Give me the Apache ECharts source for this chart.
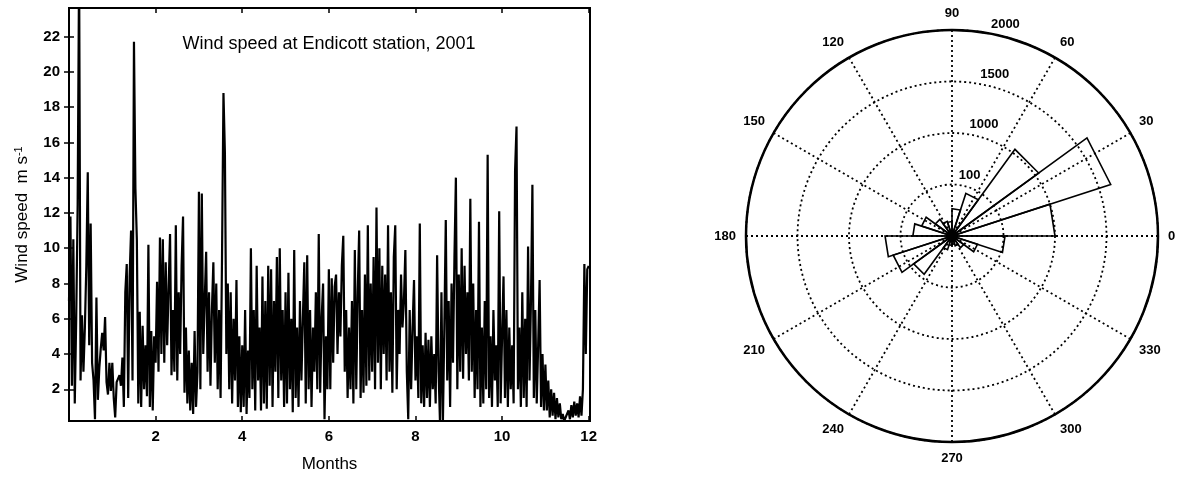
<!DOCTYPE html>
<html>
<head>
<meta charset="utf-8">
<script src="https://cdn.jsdelivr.net/npm/echarts@6/dist/echarts.min.js"></script>
<style>
  html, body { margin: 0; padding: 0; background: #fff; }
  #chart { width: 1183px; height: 478px; }
</style>
</head>
<body>
<div id="chart"></div>
<script>
// wind speed (m/s), one reading every 1/30 month
const speed = [
  7, 11.8, 2.2, 10.5, 1.2, 6, 12.5, 26, 2.5, 6.2, 3, 5.5, 9, 14.3, 4.5, 11.4, 3.5, 2.5, 0.3, 7.2, 1.4, 3.2, 4.3, 5.2, 4.2, 6.1, 2.4, 1.7, 3.5, 1.9,
  3.5, 1.5, 0.4, 2.4, 2.6, 2.8, 2.2, 3.8, 1.0, 7.5, 9.1, 1.5, 8.4, 11.0, 2.5, 21.7, 13.4, 10.5, 1.2, 6.4, 1.0, 5.6, 2.0, 4.5, 1.6, 10.2, 1.0, 5.3, 0.8, 5.0,
  3.5, 8.1, 3.0, 10.6, 4.0, 10.5, 3.5, 9.2, 4.5, 7.8, 10.8, 2.8, 6.5, 3.0, 11.3, 2.5, 7.5, 4.0, 9.0, 11.8, 1.8, 5.5, 1.2, 4.2, 0.8, 3.5, 0.6, 5.3, 1.0, 3.0,
  13.2, 2.0, 13.1, 4.0, 7.0, 9.8, 3.0, 7.5, 2.2, 6.5, 9.2, 3.5, 8.0, 2.0, 6.5, 1.5, 9.5, 18.8, 15.4, 4.0, 8.0, 2.0, 7.5, 1.2, 6.0, 2.5, 8.2, 1.0, 5.0, 0.7,
  4.5, 1.0, 6.5, 0.6, 4.2, 1.5, 10.0, 2.0, 6.5, 0.8, 9.0, 2.5, 5.5, 0.8, 8.4, 1.2, 7.0, 0.9, 9.0, 2.2, 8.8, 1.0, 7.0, 3.0, 9.5, 1.5, 10.0, 2.5, 6.5, 1.0,
  7.5, 1.2, 8.6, 2.0, 6.0, 0.7, 9.9, 1.5, 5.5, 1.0, 7.0, 2.5, 6.0, 9.2, 1.2, 9.6, 2.0, 6.5, 1.0, 5.5, 3.0, 7.5, 2.0, 10.8, 1.8, 6.0, 8.0, 0.3, 5.0, 2.0,
  8.8, 2.0, 8.3, 3.5, 7.8, 8.5, 4.0, 7.5, 5.0, 9.0, 10.7, 3.0, 6.5, 1.5, 5.5, 2.0, 7.0, 1.2, 9.9, 2.0, 7.5, 11.0, 1.5, 6.5, 1.8, 8.5, 2.2, 11.3, 2.5, 8.0,
  3.0, 9.5, 2.0, 12.3, 3.5, 10.0, 2.0, 9.0, 4.0, 8.5, 2.5, 11.3, 3.0, 7.5, 1.8, 9.5, 11.3, 2.0, 6.5, 4.0, 8.5, 5.5, 7.0, 9.9, 3.0, 0.3, 6.5, 2.0, 5.5, 8.2,
  2.5, 5.0, 1.5, 11.4, 1.2, 4.5, 1.0, 5.2, 1.5, 4.8, 1.0, 5.0, 2.0, 4.0, 1.2, 9.6, 3.0, 0.1, 7.5, 0.1, 5.5, 11.6, 2.5, 7.0, 1.0, 8.0, 3.5, 9.5, 14.0, 2.0,
  8.5, 3.0, 10.0, 2.6, 9.0, 4.0, 7.5, 2.5, 12.8, 3.0, 8.0, 1.5, 6.5, 2.0, 11.5, 1.0, 5.5, 1.2, 7.0, 2.0, 15.3, 1.5, 5.0, 1.0, 6.5, 2.5, 4.5, 1.0, 12.1, 1.2,
  5.0, 8.4, 1.5, 6.5, 1.0, 5.5, 2.0, 4.5, 1.2, 14.4, 16.9, 2.0, 5.5, 1.0, 7.5, 1.5, 6.0, 1.0, 10.1, 2.5, 7.0, 13.6, 1.5, 6.5, 1.2, 4.5, 8.2, 1.0, 4.0, 0.8,
  3.4, 0.8, 2.5, 0.4, 2.0, 0.5, 1.8, 0.3, 1.5, 0.4, 1.2, 0.3, 0.6, 0.2, 0.4, 0.3, 0.8, 0.3, 1.1, 0.4, 1.3, 0.5, 1.2, 0.4, 1.6, 0.5, 2.0, 9.1, 4.0, 8.8,
  9.0
];
const sampleStep = 1 / 30;
const monthTicks = [2, 4, 6, 8, 10, 12];
const speedTicks = [2, 4, 6, 8, 10, 12, 14, 16, 18, 20, 22];

// rose histogram: counts in 20 direction bins of 18 degrees, starting at 0
const roseCounts = [1000, 1620, 1040, 435, 265, 140, 150, 200, 310, 380,
                    650, 600, 460, 140, 90, 80, 100, 140, 260, 515];
const roseBinWidth = 18;
const radiusLabels = { 500: '100', 1000: '1000', 1500: '1500', 2000: '2000' };

const dotted = { color: '#000', type: [2, 3], width: 1.8 };
const axisFont = { color: '#000', fontSize: 15, fontWeight: 'bold', fontFamily: 'Liberation Sans, Arial, sans-serif' };

const chart = echarts.init(document.getElementById('chart'));
chart.setOption({
  animation: false,
  backgroundColor: '#fff',
  textStyle: { fontFamily: 'Liberation Sans, Arial, sans-serif' },
  title: {
    text: 'Wind speed at Endicott station, 2001',
    left: 329, top: 35, textAlign: 'center', padding: 0,
    textStyle: { fontSize: 18, fontWeight: 'normal', color: '#000' }
  },
  grid: { left: 69, right: 593, top: 8, bottom: 55, show: true, borderColor: '#000', borderWidth: 2 },
  xAxis: [{
    type: 'value', min: 0, max: 12.03,
    axisLine: { show: false },
    axisTick: { inside: true, length: 5, customValues: monthTicks, lineStyle: { color: '#000', width: 1.5 } },
    axisLabel: Object.assign({ customValues: monthTicks, margin: 8 }, axisFont),
    splitLine: { show: false },
    name: 'Months', nameLocation: 'middle', nameGap: 35,
    nameTextStyle: { fontSize: 17, color: '#000' }
  }, {
    type: 'value', min: 0, max: 12.03, position: 'top',
    axisLine: { show: false },
    axisTick: { inside: true, length: 5, customValues: monthTicks, lineStyle: { color: '#000', width: 1.5 } },
    axisLabel: { show: false },
    splitLine: { show: false }
  }],
  yAxis: [{
    type: 'value', min: 0.2, max: 23.62,
    axisLine: { show: false },
    axisTick: { show: true, inside: true, length: 5, customValues: speedTicks, lineStyle: { color: '#000', width: 1.5 } },
    axisLabel: Object.assign({ customValues: speedTicks, margin: 9 }, axisFont),
    splitLine: { show: false },
    name: 'Wind speed  m s{sup|-1}', nameLocation: 'middle', nameGap: 37, nameRotate: 90,
    nameTextStyle: {
      fontSize: 17, color: '#000',
      rich: { sup: { fontSize: 11, color: '#000', verticalAlign: 'top', padding: [0, 0, 8, 0] } }
    }
  }, {
    type: 'value', min: 0.2, max: 23.62, position: 'right',
    axisLine: { show: false },
    axisTick: { show: true, inside: true, length: 5, customValues: speedTicks, lineStyle: { color: '#000', width: 1.5 } },
    axisLabel: { show: false },
    splitLine: { show: false }
  }],
  polar: [
    { center: [952, 236], radius: 206 },
    { center: [952, 236], radius: 206 }
  ],
  angleAxis: [{
    polarIndex: 0, type: 'value', min: 0, max: 360, interval: 30,
    startAngle: 0, clockwise: false,
    axisLine: { lineStyle: { color: '#000', width: 2.5 } },
    axisTick: { show: false },
    axisLabel: { color: '#000', fontSize: 13, fontWeight: 'bold', margin: 10,
                 formatter: v => (v === 360 ? '' : String(v)) },
    splitLine: { lineStyle: dotted }
  }, {
    polarIndex: 1, type: 'value', min: 0, max: 360, startAngle: 78, show: false
  }],
  radiusAxis: [{
    polarIndex: 0, type: 'value', min: 0, max: 2000, interval: 500,
    axisLine: { show: false }, axisTick: { show: false }, axisLabel: { show: false },
    splitLine: { lineStyle: dotted }
  }, {
    polarIndex: 1, type: 'value', min: 0, max: 2000, interval: 500,
    axisLine: { show: false }, axisTick: { show: false }, splitLine: { show: false },
    axisLabel: { inside: false, showMinLabel: false, color: '#000', fontSize: 13, fontWeight: 'bold', margin: 4,
                 align: 'left', verticalAlign: 'bottom', padding: [0, 0, 3, 0],
                 formatter: v => radiusLabels[v] || '' }
  }],
  series: [{
    type: 'line',
    xAxisIndex: 0, yAxisIndex: 0,
    data: speed.map((v, i) => [i * sampleStep, v]),
    showSymbol: false, symbol: 'none',
    lineStyle: { color: '#000', width: 2.2 },
    clip: true
  }, {
    type: 'custom',
    coordinateSystem: 'polar', polarIndex: 0,
    data: roseCounts.map((n, i) => [i * roseBinWidth, (i + 1) * roseBinWidth, n]),
    encode: { angle: 0, radius: 2 },
    renderItem: function (params, api) {
      const a1 = api.value(0), a2 = api.value(1), r = api.value(2);
      const c = api.coord([0, a1]);
      const p1 = api.coord([r, a1]);
      const p2 = api.coord([r, a2]);
      return {
        type: 'polygon',
        shape: { points: [c, p1, p2] },
        style: { fill: 'none', stroke: '#000', lineWidth: 1.6 }
      };
    }
  }]
});
</script>
</body>
</html>
